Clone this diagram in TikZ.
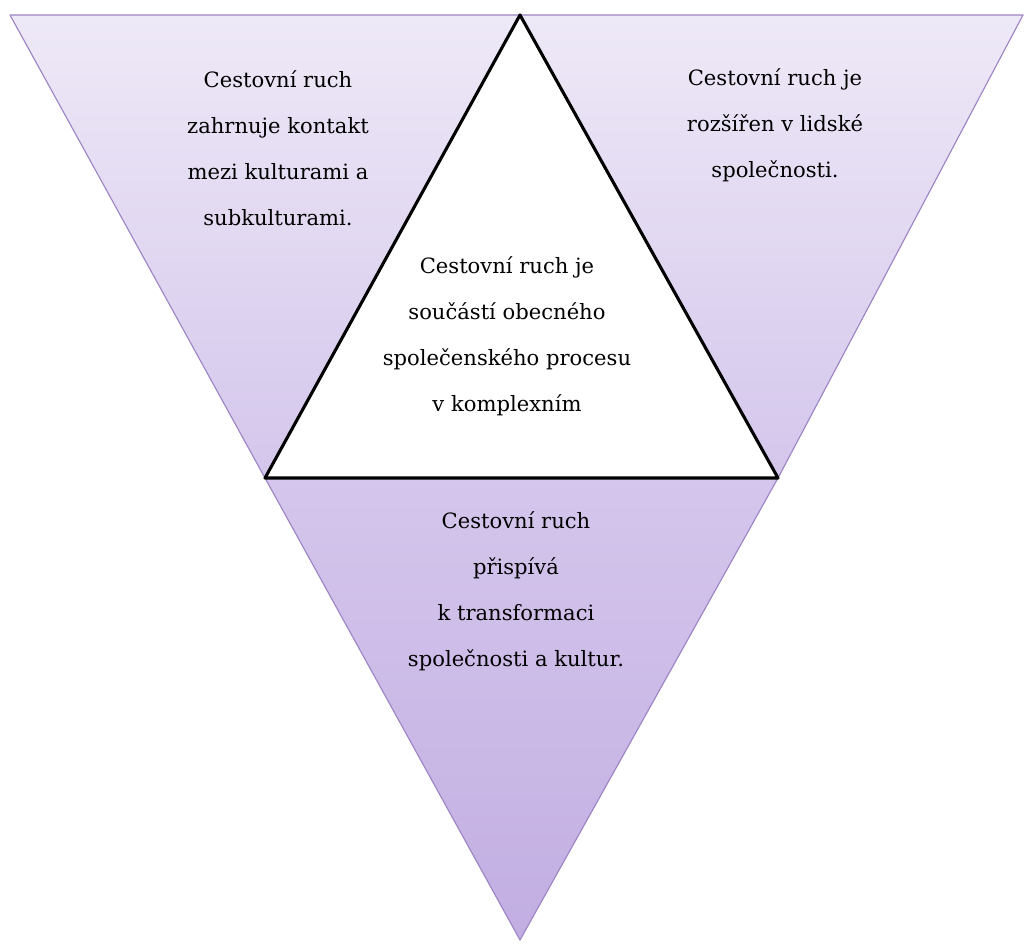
\documentclass[tikz,border=0pt]{standalone}
\usepackage{fontspec}
\setmainfont{DejaVu Serif}
\definecolor{lilaclight}{HTML}{EEE9F7}
\definecolor{lilacmid}{HTML}{D4C6EC}
\definecolor{lilacdark}{HTML}{C2AEE2}
\definecolor{lilacedge}{HTML}{9C84C4}
\tikzset{
  wedge/.style={draw=lilacedge,line width=0.8pt,line join=round},
  caption/.style={align=center,font=\fontsize{15}{32.7}\selectfont,inner sep=0pt}
}
\begin{document}
\begin{tikzpicture}[x=0.025cm,y=-0.025cm,line join=round]
\useasboundingbox (0,0) rectangle (1024,945);
% outer wedges
\shade[wedge,top color=lilaclight,bottom color=lilacmid] (10,15)--(520,15)--(265,478)--cycle;
\shade[wedge,top color=lilaclight,bottom color=lilacmid] (520,15)--(1023,15)--(778,478)--cycle;
\shade[wedge,top color=lilacmid,bottom color=lilacdark] (265,478)--(778,478)--(520,940)--cycle;
% inner triangle
\draw[fill=white,line width=2.2pt,miter limit=20] (265,478)--(778,478)--(520,15)--cycle;
\node[caption] (left) at (278,148) {Cestovní ruch\\zahrnuje kontakt\\mezi kulturami a\\subkulturami.};
\node[caption] (right) at (775,125) {Cestovní ruch je\\rozšířen v lidské\\společnosti.};
\node[caption] (middle) at (507,336) {Cestovní ruch je\\součástí obecného\\společenského procesu\\v komplexním};
\node[caption] (bottom) at (516,591) {Cestovní ruch\\přispívá\\k transformaci\\společnosti a kultur.};
\end{tikzpicture}
\end{document}
